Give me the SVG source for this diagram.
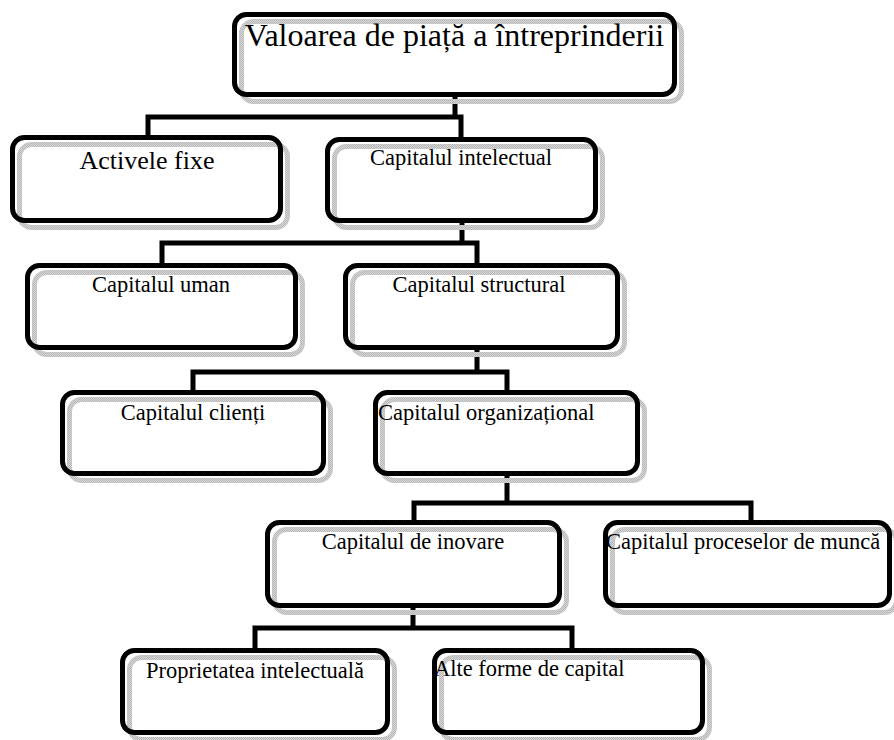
<svg xmlns="http://www.w3.org/2000/svg" width="894" height="740" viewBox="0 0 894 740">
<defs>
<pattern id="dots" width="2" height="2" patternUnits="userSpaceOnUse"><rect width="2" height="2" fill="#d6d6d6"/><rect width="1" height="1" fill="#b8b8b8"/><rect x="1" y="1" width="1" height="1" fill="#b8b8b8"/></pattern>
</defs>
<style>
.sh{fill:none;stroke:url(#dots);stroke-width:5}
.bx{fill:none;stroke:#000;stroke-width:5}
.t{font-family:"Liberation Serif","Times New Roman",serif;font-size:22.5px;fill:#000}
.c{text-anchor:middle}
.ln{fill:none;stroke:#000;stroke-width:5;stroke-linecap:square}
</style>
<rect width="894" height="740" fill="#fff"/>
<g id="connectors">
<path class="ln" d="M455,97 V117 M148,117 H461 M148,117 V136 M461,117 V137"/>
<path class="ln" d="M462,223 V243 M162,243 H477 M162,243 V262 M477,243 V262"/>
<path class="ln" d="M477,350 V372 M193,372 H507 M193,372 V389 M507,372 V389"/>
<path class="ln" d="M507,476 V503 M414,503 H751 M414,503 V519 M751,503 V519"/>
<path class="ln" d="M413,608 V628 M255,628 H572 M255,628 V647 M572,628 V647"/>
</g>
<g id="n1"><rect class="sh" x="241.5" y="21.5" width="440" height="80" rx="12"/><rect class="bx" x="234.5" y="14.5" width="440" height="80" rx="12"/><text class="t c" x="454.5" y="46" style="font-size:32px">Valoarea de piață a întreprinderii</text></g>
<g id="n2"><rect class="sh" x="19.5" y="144.5" width="268" height="83" rx="12"/><rect class="bx" x="12.5" y="137.5" width="268" height="83" rx="12"/><text class="t c" x="147" y="169" style="font-size:26px">Activele fixe</text></g>
<g id="n3"><rect class="sh" x="334.5" y="146.5" width="268" height="81" rx="12"/><rect class="bx" x="327.5" y="139.5" width="268" height="81" rx="12"/><text class="t c" x="461" y="165">Capitalul intelectual</text></g>
<g id="n4"><rect class="sh" x="34.5" y="272.5" width="268" height="82" rx="12"/><rect class="bx" x="27.5" y="265.5" width="268" height="82" rx="12"/><text class="t c" x="161" y="292">Capitalul uman</text></g>
<g id="n5"><rect class="sh" x="352.5" y="272.5" width="272" height="82" rx="12"/><rect class="bx" x="345.5" y="265.5" width="272" height="82" rx="12"/><text class="t c" x="479" y="292">Capitalul structural</text></g>
<g id="n6"><rect class="sh" x="69.5" y="399.5" width="261" height="81" rx="12"/><rect class="bx" x="62.5" y="392.5" width="261" height="81" rx="12"/><text class="t c" x="193" y="420">Capitalul clienți</text></g>
<g id="n7"><rect class="sh" x="382.5" y="399.5" width="262" height="81" rx="12"/><rect class="bx" x="375.5" y="392.5" width="262" height="81" rx="12"/><text class="t" x="378" y="420">Capitalul organizațional</text></g>
<g id="n8"><rect class="sh" x="274.5" y="529.5" width="292" height="83" rx="12"/><rect class="bx" x="267.5" y="522.5" width="292" height="83" rx="12"/><text class="t c" x="413" y="549">Capitalul de inovare</text></g>
<g id="n9"><rect class="sh" x="612.5" y="529.5" width="284" height="83" rx="12"/><rect class="bx" x="605.5" y="522.5" width="284" height="83" rx="12"/><text class="t" x="606" y="549">Capitalul proceselor de muncă</text></g>
<g id="n10"><rect class="sh" x="129.5" y="657.5" width="265" height="82" rx="12"/><rect class="bx" x="122.5" y="650.5" width="265" height="82" rx="12"/><text class="t c" x="255" y="678">Proprietatea intelectuală</text></g>
<g id="n11"><rect class="sh" x="441.5" y="657.5" width="268" height="82" rx="12"/><rect class="bx" x="434.5" y="650.5" width="268" height="82" rx="12"/><text class="t" x="434" y="676">Alte forme de capital</text></g>
</svg>
